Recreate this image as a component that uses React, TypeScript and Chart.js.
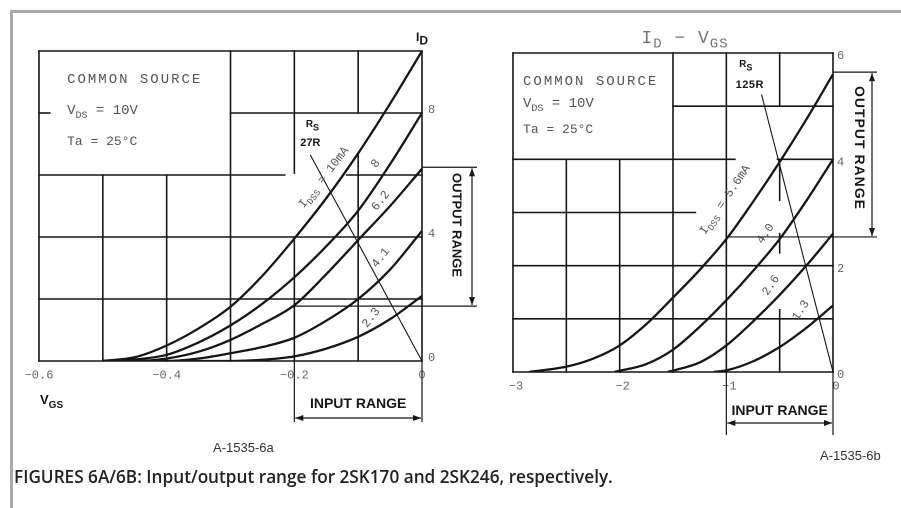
import React, { useEffect, useRef } from 'react';
import { Chart, registerables } from 'chart.js';
Chart.register(...registerables);

// ---------------- Figure 6A (2SK170) data ----------------
const A_X_TICKS = [-0.6, -0.4, -0.2, 0];
const A_X_TICK_LABELS = ['−0.6', '−0.4', '−0.2', '0'];
const A_Y_TICKS = [0, 4, 8];
const A_Y_TICK_LABELS = ['0', '4', '8'];
const A_VGS = [-0.5, -0.45, -0.4, -0.35, -0.3, -0.25, -0.2, -0.15, -0.1, -0.05, 0];
const A_ID_10 = [0, 0.12, 0.5, 1.05, 1.75, 2.75, 3.95, 5.25, 6.7, 8.3, 10];
const A_ID_8 = [0, 0.05, 0.2, 0.6, 1.15, 1.85, 2.7, 3.7, 4.85, 6.35, 8];
const A_ID_62 = [0, 0, 0.08, 0.3, 0.68, 1.2, 1.8, 2.8, 3.9, 5.0, 6.2];
const A_ID_41 = [0, 0, 0, 0.08, 0.25, 0.45, 0.75, 1.3, 2.0, 2.95, 4.2];
const A_ID_23 = [0, 0, 0, 0, 0, 0.04, 0.15, 0.4, 0.78, 1.35, 2.1];
const A_CURVE_LABELS = ['IDSS = 10mA', '8', '6.2', '4.1', '2.3'];
const A_RS_VGS = [0, -0.175];
const A_RS_ID = [0, 6.65];
const A_RS_LABEL = '27R';

// ---------------- Figure 6B (2SK246) data ----------------
const B_X_TICKS = [-3, -2, -1, 0];
const B_X_TICK_LABELS = ['−3', '−2', '−1', '0'];
const B_Y_TICKS = [0, 2, 4, 6];
const B_Y_TICK_LABELS = ['0', '2', '4', '6'];
const B_VGS_56 = [-2.85, -2.5, -2.25, -2, -1.75, -1.5, -1.25, -1, -0.75, -0.5, -0.25, 0];
const B_ID_56 = [0, 0.1, 0.25, 0.5, 0.9, 1.4, 1.92, 2.5, 3.2, 3.95, 4.75, 5.6];
const B_VGS_40 = [-2.05, -1.75, -1.5, -1.25, -1, -0.75, -0.5, -0.25, 0];
const B_ID_40 = [0, 0.15, 0.42, 0.85, 1.35, 1.9, 2.5, 3.22, 4.0];
const B_VGS_26 = [-1.55, -1.25, -1, -0.75, -0.5, -0.25, 0];
const B_ID_26 = [0, 0.18, 0.5, 0.95, 1.45, 2.0, 2.6];
const B_VGS_13 = [-1.12, -1, -0.75, -0.5, -0.25, 0];
const B_ID_13 = [0, 0.03, 0.2, 0.47, 0.83, 1.25];
const B_CURVE_LABELS = ['IDSS = 5.6mA', '4.0', '2.6', '1.3'];
const B_RS_VGS = [0, -0.67];
const B_RS_ID = [0, 5.22];
const B_RS_LABEL = '125R';

// ---------------- layout constants (grid segments in data units) ----------------
const A_VGRID: number[][] = [[-0.6, 0, 10], [-0.5, 0, 6], [-0.4, 0, 6], [-0.3, 0, 10], [-0.2, 0, 4], [-0.2, 6.06, 10], [-0.1, 0, 6.65], [-0.1, 8, 10], [0, 0, 10]];
const A_HGRID: number[][] = [[10, -0.6, 0], [8, -0.3, 0], [8, -0.6, -0.583], [6, -0.6, -0.215], [6, -0.118, 0], [4, -0.6, 0], [2, -0.6, 0], [0, -0.6, 0]];
const B_VGRID: number[][] = [[-3, 0, 6], [-2.5, 0, 4], [-2, 0, 4], [-1.5, 0, 6], [-1, 0, 6], [-0.5, 5, 6], [-0.5, 3.23, 4], [-0.5, 2.24, 2.6], [-0.5, 0, 1.17], [0, 0, 6]];
const B_HGRID: number[][] = [[6, -3, 0], [5, -1.5, 0], [4, -3, -0.92], [4, -0.52, 0], [3, -3, -1.29], [2, -3, 0], [1, -3, 0], [0, -3, 0]];

const INK = '#161616';
const TYPE_INK = '#555';
const MONO = "'Liberation Mono', 'DejaVu Sans Mono', monospace";
const SANS = "'Liberation Sans', Arial, sans-serif";

type Run = { t: string; sub?: boolean };
type RunOpts = { size: number; family: string; weight?: string; color: string; align?: 'left' | 'center'; ls?: number; subScale?: number; subDrop?: number };

function drawRuns(ctx: CanvasRenderingContext2D, runs: Run[], x: number, y: number, o: RunOpts) {
  ctx.save();
  ctx.fillStyle = o.color;
  ctx.textBaseline = 'alphabetic';
  ctx.textAlign = 'left';
  (ctx as any).letterSpacing = (o.ls || 0) + 'px';
  const fonts = runs.map(r => `${o.weight || 'normal'} ${r.sub ? Math.round(o.size * (o.subScale || 0.72)) : o.size}px ${o.family}`);
  const widths = runs.map((r, i) => { ctx.font = fonts[i]; return ctx.measureText(r.t).width; });
  const total = widths.reduce((a, b) => a + b, 0);
  let cx = o.align === 'center' ? x - total / 2 : x;
  runs.forEach((r, i) => {
    ctx.font = fonts[i];
    ctx.fillText(r.t, cx, y + (r.sub ? o.size * (o.subDrop ?? 0.3) : 0));
    cx += widths[i];
  });
  ctx.restore();
}

function drawRotated(ctx: CanvasRenderingContext2D, runs: Run[], cx: number, cy: number, angleDeg: number, o: RunOpts) {
  ctx.save();
  ctx.translate(cx, cy);
  ctx.rotate((angleDeg * Math.PI) / 180);
  drawRuns(ctx, runs, 0, o.size * 0.35, { ...o, align: 'center' });
  ctx.restore();
}

function seg(ctx: CanvasRenderingContext2D, x0: number, y0: number, x1: number, y1: number) {
  ctx.beginPath();
  ctx.moveTo(x0, y0);
  ctx.lineTo(x1, y1);
  ctx.stroke();
}

function arrowLine(ctx: CanvasRenderingContext2D, x0: number, y0: number, x1: number, y1: number) {
  const ang = Math.atan2(y1 - y0, x1 - x0);
  const L = 8, W = 3;
  seg(ctx, x0, y0, x1, y1);
  const head = (x: number, y: number, a: number) => {
    ctx.beginPath();
    ctx.moveTo(x, y);
    ctx.lineTo(x - L * Math.cos(a) + W * Math.sin(a), y - L * Math.sin(a) - W * Math.cos(a));
    ctx.lineTo(x - L * Math.cos(a) - W * Math.sin(a), y - L * Math.sin(a) + W * Math.cos(a));
    ctx.closePath();
    ctx.fill();
  };
  head(x1, y1, ang);
  head(x0, y0, ang + Math.PI);
}

function drawGrid(chart: any, V: number[][], H: number[][]) {
  const { ctx, scales: { x, y } } = chart;
  ctx.save();
  ctx.strokeStyle = INK;
  ctx.lineWidth = 1.6;
  ctx.lineCap = 'square';
  V.forEach(([v, a, b]) => seg(ctx, x.getPixelForValue(v), y.getPixelForValue(a), x.getPixelForValue(v), y.getPixelForValue(b)));
  H.forEach(([i, a, b]) => seg(ctx, x.getPixelForValue(a), y.getPixelForValue(i), x.getPixelForValue(b), y.getPixelForValue(i)));
  ctx.restore();
}

const typeOpts = (size: number, ls = 0): RunOpts => ({ size, family: MONO, color: TYPE_INK, ls });
const boldOpts = (size: number, ls = 0): RunOpts => ({ size, family: SANS, weight: 'bold', color: INK, ls });

function conditionText(ctx: CanvasRenderingContext2D, x: any, y: any, v: number, rows: number[]) {
  drawRuns(ctx, [{ t: 'COMMON SOURCE' }], x.getPixelForValue(v), y.getPixelForValue(rows[0]) + 5, typeOpts(14, 2));
  drawRuns(ctx, [{ t: 'V' }, { t: 'DS', sub: true }, { t: ' = 10V' }], x.getPixelForValue(v), y.getPixelForValue(rows[1]) + 4, typeOpts(14));
  drawRuns(ctx, [{ t: 'Ta = 25°C' }], x.getPixelForValue(v), y.getPixelForValue(rows[2]) + 5, typeOpts(13));
}

function idssRuns(label: string): Run[] {
  if (label.startsWith('IDSS')) return [{ t: 'I' }, { t: 'DSS', sub: true }, { t: label.slice(4) }];
  return [{ t: label }];
}

const plugA = {
  id: 'decorA',
  beforeDatasetsDraw(chart: any) { drawGrid(chart, A_VGRID, A_HGRID); },
  afterDatasetsDraw(chart: any) {
    const { ctx, scales: { x, y }, chartArea: ca } = chart;
    conditionText(ctx, x, y, -0.556, [9.13, 8.1, 7.13]);
    const pos = [[-0.155, 5.94], [-0.074, 6.39], [-0.066, 5.19], [-0.066, 3.35], [-0.081, 1.42]];
    A_CURVE_LABELS.forEach((l, i) => drawRotated(ctx, idssRuns(l), x.getPixelForValue(pos[i][0]), y.getPixelForValue(pos[i][1]), -52, typeOpts(12)));
    drawRuns(ctx, [{ t: 'R' }, { t: 'S', sub: true }], x.getPixelForValue(-0.182), y.getPixelForValue(7.55), { ...boldOpts(10), subDrop: 0.35, subScale: 0.9 });
    drawRuns(ctx, [{ t: A_RS_LABEL }], x.getPixelForValue(-0.175), y.getPixelForValue(7.06) + 4, { ...boldOpts(11), align: 'center' });
    drawRuns(ctx, [{ t: 'I' }, { t: 'D', sub: true }], ca.right - 6, ca.top - 10, { ...boldOpts(12), subScale: 1, subDrop: 0.3 });
    drawRuns(ctx, [{ t: 'V' }, { t: 'GS', sub: true }], ca.left + 1, ca.bottom + 43, { ...boldOpts(13), subScale: 0.8, subDrop: 0.3 });
    ctx.save();
    ctx.strokeStyle = INK; ctx.fillStyle = INK; ctx.lineWidth = 1.2;
    const yT = y.getPixelForValue(6.25), yB = y.getPixelForValue(1.77);
    seg(ctx, ca.right, yT, ca.right + 55, yT);
    seg(ctx, x.getPixelForValue(-0.2), yB, ca.right + 55, yB);
    arrowLine(ctx, ca.right + 50, yT + 1, ca.right + 50, yB - 1);
    const xL = x.getPixelForValue(-0.2);
    seg(ctx, xL, ca.bottom, xL, ca.bottom + 61);
    seg(ctx, ca.right, ca.bottom, ca.right, ca.bottom + 61);
    arrowLine(ctx, xL + 1, ca.bottom + 57, ca.right - 1, ca.bottom + 57);
    ctx.restore();
    drawRotated(ctx, [{ t: 'OUTPUT RANGE' }], ca.right + 35, 225, 90, boldOpts(13));
    drawRuns(ctx, [{ t: 'INPUT RANGE' }], (xL + ca.right) / 2, ca.bottom + 47, { ...boldOpts(14), align: 'center' });
  },
};

const plugB = {
  id: 'decorB',
  beforeDatasetsDraw(chart: any) { drawGrid(chart, B_VGRID, B_HGRID); },
  afterDatasetsDraw(chart: any) {
    const { ctx, scales: { x, y }, chartArea: ca } = chart;
    conditionText(ctx, x, y, -2.906, [5.49, 5.06, 4.59]);
    const pos = [[-1.02, 3.25], [-0.64, 2.61], [-0.59, 1.64], [-0.31, 1.17]];
    B_CURVE_LABELS.forEach((l, i) => drawRotated(ctx, idssRuns(l), x.getPixelForValue(pos[i][0]), y.getPixelForValue(pos[i][1]), -56, typeOpts(12)));
    drawRuns(ctx, [{ t: 'R' }, { t: 'S', sub: true }], x.getPixelForValue(-0.88), y.getPixelForValue(5.74), { ...boldOpts(10), subDrop: 0.35, subScale: 0.9 });
    drawRuns(ctx, [{ t: B_RS_LABEL }], x.getPixelForValue(-0.78), y.getPixelForValue(5.42) + 4, { ...boldOpts(11, 0.5), align: 'center' });
    drawRuns(ctx, [{ t: 'I' }, { t: 'D', sub: true }, { t: ' − ' }, { t: 'V' }, { t: 'GS', sub: true }], (ca.left + ca.right) / 2 + 12, ca.top - 10, { size: 18, family: MONO, color: '#777', align: 'center', ls: 1, subScale: 0.75, subDrop: 0.25 });
    ctx.save();
    ctx.strokeStyle = INK; ctx.fillStyle = INK; ctx.lineWidth = 1.2;
    const yT = y.getPixelForValue(5.64), yB = y.getPixelForValue(2.54);
    seg(ctx, ca.right, yT, ca.right + 44, yT);
    seg(ctx, x.getPixelForValue(-1), yB, ca.right + 44, yB);
    arrowLine(ctx, ca.right + 39, yT + 1, ca.right + 39, yB - 1);
    const xL = x.getPixelForValue(-1);
    seg(ctx, xL, ca.bottom, xL, ca.bottom + 63);
    seg(ctx, ca.right, ca.bottom, ca.right, ca.bottom + 63);
    arrowLine(ctx, xL + 1, ca.bottom + 51, ca.right - 1, ca.bottom + 51);
    ctx.restore();
    drawRotated(ctx, [{ t: 'OUTPUT RANGE' }], ca.right + 27, 148, 90, boldOpts(14, 1));
    drawRuns(ctx, [{ t: 'INPUT RANGE' }], (xL + ca.right) / 2, ca.bottom + 43, { ...boldOpts(14), align: 'center' });
  },
};

function curve(vs: number[], ids: number[], width = 2.3) {
  return {
    data: vs.map((v, i) => ({ x: v, y: ids[i] })),
    borderColor: INK,
    borderWidth: width,
    pointRadius: 0,
    cubicInterpolationMode: 'monotone' as const,
    fill: false,
  };
}

function makeConfig(opts: any) {
  const { datasets, xMin, xMax, yMax, xTicks, xLabels, yTicks, yLabels, pad, xH, yW, xOff, yOff, yPad, plugin } = opts;
  const tickFont = { family: MONO, size: 12 };
  return {
    type: 'line',
    data: { datasets },
    options: {
      animation: false,
      responsive: false,
      devicePixelRatio: 2,
      layout: { padding: pad },
      plugins: { legend: { display: false }, tooltip: { enabled: false } },
      events: [],
      scales: {
        x: {
          type: 'linear', min: xMin, max: xMax, position: 'bottom',
          grid: { display: false, drawTicks: false }, border: { display: false },
          afterBuildTicks: (s: any) => { s.ticks = xTicks.map((v: number) => ({ value: v })); },
          afterFit: (s: any) => { s.height = xH; },
          ticks: { font: tickFont, color: '#666', padding: 7, maxRotation: 0, autoSkip: false, labelOffset: xOff, callback: (_v: any, i: number) => xLabels[i] },
        },
        y: {
          type: 'linear', min: 0, max: yMax, position: 'right',
          grid: { display: false, drawTicks: false }, border: { display: false },
          afterBuildTicks: (s: any) => { s.ticks = yTicks.map((v: number) => ({ value: v })); },
          afterFit: (s: any) => { s.width = yW; },
          ticks: { font: tickFont, color: '#666', padding: yPad, autoSkip: false, labelOffset: yOff, callback: (_v: any, i: number) => yLabels[i] },
        },
      },
    },
    plugins: [plugin],
  } as any;
}

function ChartCanvas({ config, left, width }: { config: any; left: number; width: number }) {
  const ref = useRef<HTMLCanvasElement>(null);
  useEffect(() => {
    const c = new Chart(ref.current as HTMLCanvasElement, config);
    return () => c.destroy();
  }, []);
  return <canvas ref={ref} width={width} height={508} style={{ position: 'absolute', left, top: 0, width, height: 508 }} />;
}

export default function App() {
  const cfgA = makeConfig({
    datasets: [
      curve(A_VGS, A_ID_10), curve(A_VGS, A_ID_8), curve(A_VGS, A_ID_62), curve(A_VGS, A_ID_41), curve(A_VGS, A_ID_23),
      curve(A_RS_VGS, A_RS_ID, 1.1),
    ],
    xMin: -0.6, xMax: 0, yMax: 10, xTicks: A_X_TICKS, xLabels: A_X_TICK_LABELS, yTicks: A_Y_TICKS, yLabels: A_Y_TICK_LABELS,
    pad: { left: 39, top: 51, right: 0, bottom: 0 }, xH: 147, yW: 68, xOff: 0, yOff: -3, yPad: 6, plugin: plugA,
  });
  const cfgB = makeConfig({
    datasets: [
      curve(B_VGS_56, B_ID_56), curve(B_VGS_40, B_ID_40), curve(B_VGS_26, B_ID_26), curve(B_VGS_13, B_ID_13),
      curve(B_RS_VGS, B_RS_ID, 1.1),
    ],
    xMin: -3, xMax: 0, yMax: 6, xTicks: B_X_TICKS, xLabels: B_X_TICK_LABELS, yTicks: B_Y_TICKS, yLabels: B_Y_TICK_LABELS,
    pad: { left: 23, top: 53, right: 0, bottom: 0 }, xH: 136, yW: 68, xOff: 3, yOff: 3, yPad: 4, plugin: plugB,
  });
  return (
    <div style={{ position: 'fixed', left: 0, top: 0, width: 901, height: 508, background: '#fff', overflow: 'hidden' }}>
      <div style={{ position: 'absolute', left: 10, top: 10, width: 950, height: 600, border: '3px solid #a9a9a9' }} />
      <ChartCanvas config={cfgA} left={0} width={490} />
      <ChartCanvas config={cfgB} left={490} width={411} />
      <div style={{ position: 'absolute', left: 213, top: 440, fontFamily: "'Liberation Sans Narrow', 'Liberation Sans', sans-serif", fontSize: 13, color: '#333' }}>A-1535-6a</div>
      <div style={{ position: 'absolute', left: 820, top: 448, fontFamily: "'Liberation Sans Narrow', 'Liberation Sans', sans-serif", fontSize: 13, color: '#333' }}>A-1535-6b</div>
      <div style={{ position: 'absolute', left: 14, top: 465, fontFamily: "'Open Sans', 'Noto Sans', sans-serif", fontWeight: 600, fontSize: 17.2, color: '#222', whiteSpace: 'nowrap' }}>
        FIGURES 6A/6B: Input/output range for 2SK170 and 2SK246, respectively.
      </div>
    </div>
  );
}
